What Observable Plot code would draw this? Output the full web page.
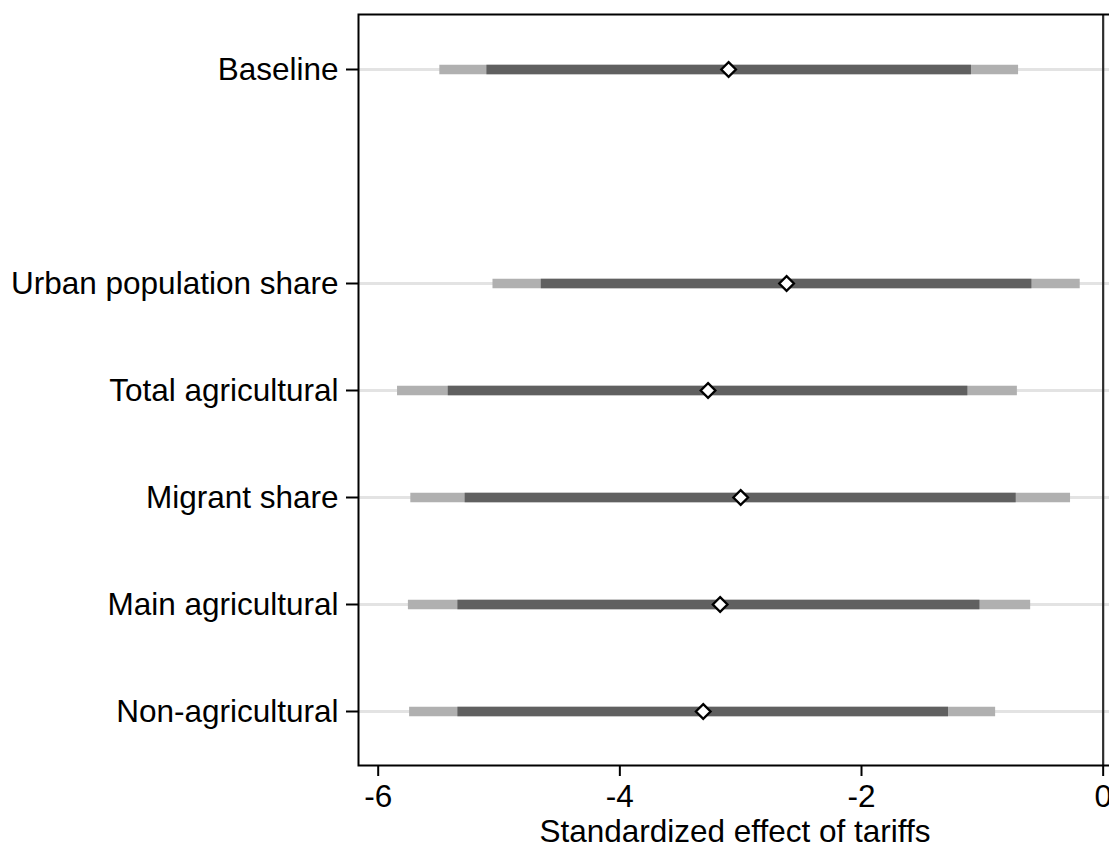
<!DOCTYPE html>
<html><head><meta charset="utf-8">
<script src="https://cdn.jsdelivr.net/npm/d3@7"></script>
<script src="https://cdn.jsdelivr.net/npm/@observablehq/plot@0.6"></script>
<style>html,body{margin:0;padding:0;overflow:hidden;background:#fff;}</style>
</head><body><div id="chart"></div>
<script>
const specifications = ["Baseline", "Urban population share", "Total agricultural", "Migrant share", "Main agricultural", "Non-agricultural"];
const estimates = [-3.10, -2.62, -3.27, -3.00, -3.17, -3.31];
const ci90Low  = [-5.10, -4.65, -5.42, -5.28, -5.34, -5.34];
const ci90High = [-1.09, -0.59, -1.12, -0.72, -1.02, -1.28];
const ci95Low  = [-5.49, -5.05, -5.84, -5.73, -5.75, -5.74];
const ci95High = [-0.70, -0.19, -0.71, -0.27, -0.60, -0.89];
const xTicks = [-6, -4, -2, 0];
const axisTitle = "Standardized effect of tariffs";

// an empty spacer category leaves the gap below "Baseline"
const yDomain = [specifications[0], " ", ...specifications.slice(1)];

const rows = specifications.map((s, i) => ({
  spec: s, est: estimates[i],
  lo90: ci90Low[i], hi90: ci90High[i],
  lo95: ci95Low[i], hi95: ci95High[i]
}));

const font = "Arial, 'Liberation Sans', Helvetica, sans-serif";

const chart = Plot.plot({
  width: 1109,
  height: 848,
  marginLeft: 358,
  marginRight: -2,
  marginTop: 14,
  marginBottom: 83,
  style: {fontFamily: font, fontSize: "31.5px", color: "black", background: "white"},
  x: {domain: [-6.163, 0.069]},
  y: {type: "point", domain: yDomain, padding: 0.5, insetTop: -1.5, insetBottom: -1.5},
  marks: [
    Plot.ruleY(rows, {y: "spec", stroke: "#e3e3e3", strokeWidth: 3}),
    Plot.ruleX([0], {stroke: "#2d2d2d", strokeWidth: 2.2}),
    Plot.ruleY(rows, {y: "spec", x1: "lo95", x2: "hi95", stroke: "#b0b0b0", strokeWidth: 9.5}),
    Plot.ruleY(rows, {y: "spec", x1: "lo90", x2: "hi90", stroke: "#606060", strokeWidth: 9.5}),
    Plot.dot(rows, {x: "est", y: "spec", symbol: "diamond2", r: 6.6, fill: "white", stroke: "black", strokeWidth: 2.3}),
    Plot.frame({stroke: "black", strokeWidth: 2}),
    Plot.axisX({ticks: xTicks, tickSize: 11, tickPadding: 8, label: null, fontSize: 31.5, strokeWidth: 2, tickFormat: d => d}),
    Plot.axisY({ticks: specifications, tickSize: 12, tickPadding: 8, label: null, fontSize: 31.5, strokeWidth: 2}),
    Plot.text([axisTitle], {frameAnchor: "bottom", dy: 66, lineAnchor: "middle", fontSize: 31.5, fill: "black"})
  ]
});
document.getElementById("chart").appendChild(chart);
</script>
</body></html>
